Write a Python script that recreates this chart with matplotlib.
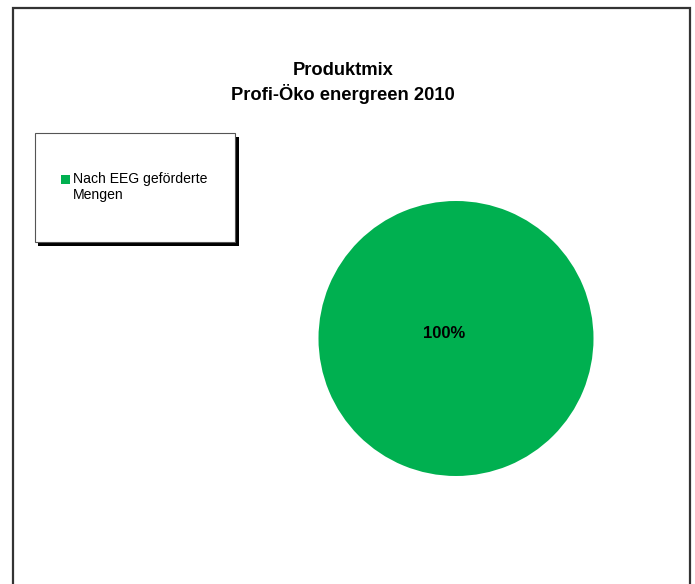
import matplotlib.pyplot as plt
from matplotlib.patches import Rectangle

plt.rcParams['font.family'] = ['Liberation Sans', 'DejaVu Sans']

title_lines = ["Produktmix", "Profi-Öko energreen 2010"]
categories = ["Nach EEG geförderte\nMengen"]
values = [100]
colors = ["#00B050"]

W, H = 695, 584
fig = plt.figure(figsize=(W / 100, H / 100), dpi=100)


def fx(px):
    return px / W


def fy(py):
    return 1 - py / H


# outer frame (bottom runs off the image)
fig.patches.append(Rectangle((fx(13), fy(600)), fx(690) - fx(13), fy(7.5) - fy(600),
                             transform=fig.transFigure, fill=False,
                             edgecolor='#333333', linewidth=1.6))

# title
fig.text(fx(343), fy(75), title_lines[0], ha='center', va='baseline',
         fontsize=13.2, fontweight='bold')
fig.text(fx(343), fy(100), title_lines[1], ha='center', va='baseline',
         fontsize=13.2, fontweight='bold')

# pie
cx, cy, r = 456, 338.5, 137.5
ax = fig.add_axes([fx(cx - r), fy(cy + r), fx(2 * r), (2 * r) / H])
wedges, texts, autotexts = ax.pie(values, colors=colors, startangle=-25,
                                  autopct='%1.0f%%', pctdistance=0.094,
                                  wedgeprops=dict(linewidth=0))
for t in autotexts:
    t.set_fontweight('bold')
    t.set_fontsize(12)
ax.set_xlim(-1, 1)
ax.set_ylim(-1, 1)
ax.set_aspect('auto')
ax.axis('off')

# legend box with black shadow
lx0, ly0, lx1, ly1 = 34.5, 133, 235, 242
fig.patches.append(Rectangle((fx(lx0 + 3.5), fy(ly1 + 3.5)), fx(lx1) - fx(lx0),
                             fy(ly0) - fy(ly1), transform=fig.transFigure,
                             facecolor='black', edgecolor='none'))
fig.patches.append(Rectangle((fx(lx0), fy(ly1)), fx(lx1) - fx(lx0),
                             fy(ly0) - fy(ly1), transform=fig.transFigure,
                             facecolor='white', edgecolor='#555555', linewidth=0.8))
for lab, col in zip(categories, colors):
    fig.patches.append(Rectangle((fx(61), fy(184)), fx(9), 9 / H,
                                 transform=fig.transFigure,
                                 facecolor=col, edgecolor='none'))
    for j, line in enumerate(lab.split("\n")):
        fig.text(fx(73), fy(182.5 + 16.7 * j), line, ha='left', va='baseline',
                 fontsize=10.1)

fig.savefig("out.png", dpi=100)
